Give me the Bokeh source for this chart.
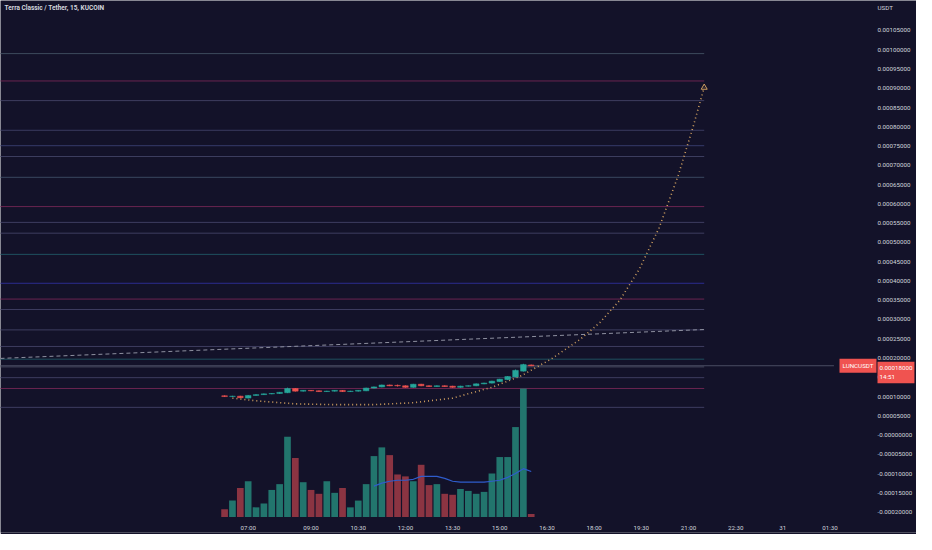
from bokeh.plotting import figure
from bokeh.models import Range1d, FixedTicker, CustomJSTickFormatter, Label, ColumnDataSource
from bokeh.embed import file_html
from bokeh.resources import INLINE

# ---------------- data ----------------
UNIT = 1e-6                      # prices below are in micro-USDT
bar_minutes = 15
first_bar_time = 375             # 06:15 on the 30th, minutes from midnight

opens = [102, 100, 101, 96, 103, 105, 107, 108, 110, 121, 114, 116, 115, 113, 114, 116, 113, 114, 115, 122,
         125, 130, 129, 128, 124, 132, 128, 126, 128, 127, 124, 127, 128, 133, 135, 139, 144, 151, 166, 182]
closes = [100, 101, 97, 103, 105, 107, 108, 111, 121, 114, 116, 115, 113, 114, 116, 113, 114, 116, 122, 125,
          130, 128, 128, 124, 132, 128, 126, 128, 126, 124, 127, 128, 133, 135, 140, 145, 152, 168, 183, 180]
highs = [103, 102, 102, 104, 106, 108, 109, 112, 123, 122, 117, 117, 116, 115, 117, 117, 115, 117, 123, 126,
         131, 131, 131, 129, 133, 133, 129, 129, 129, 128, 128, 129, 134, 136, 141, 146, 153, 170, 185, 183]
lows = [99, 99, 96, 95, 102, 104, 106, 107, 109, 113, 113, 114, 112, 112, 113, 112, 112, 113, 114, 121,
        124, 127, 126, 123, 123, 127, 125, 125, 125, 123, 123, 126, 127, 132, 134, 138, 143, 150, 165, 179]
volumes = [8, 17, 30, 37, 10, 14, 28, 34, 83, 61, 36, 28, 24, 37, 25, 30, 10, 17, 34, 63,
           72, 64, 44, 42, 37, 54, 33, 34, 24, 23, 29, 27, 24, 26, 45, 62, 62, 93, 133, 3]
vol_ma_first_index = 19
vol_ma = [32, 35, 37, 38, 38, 39, 42, 42, 42, 40, 37, 36, 36, 36, 36, 37, 38, 41, 45, 50, 47]

level_prices = [990, 919, 868, 791, 751, 723, 669, 593, 552, 524, 469, 394, 353, 326, 273, 230, 197, 177, 149, 121, 72]
level_end_time = 1290
level_colors = ["#3d4a5c", "#6a2450", "#3e3d60", "#3a3b60", "#363b6a", "#3d3e60", "#3a4860", "#6a2450",
                "#3e3d60", "#3e3d60", "#1f5060", "#2b2c90", "#6a2450", "#3e3d60", "#3e3d60", "#3e3d60",
                "#1f5060", "#45475e", "#3e3d60", "#6a2450", "#3e3d60"]

trend_times = [-52.5, 1290]
trend_prices = [199, 274]

proj_times = [390, 435, 510, 585, 660, 735, 810, 885, 941, 997.5, 1054, 1091, 1129, 1166, 1204, 1241, 1269, 1290]
proj_prices = [96, 89, 81, 79, 79, 84, 96, 124, 154, 197, 249, 292, 350, 430, 538, 676, 801, 902]

last_price = 180
countdown = "14:51"
symbol = "LUNCUSDT"
title_text = "Terra Classic / Tether, 15, KUCOIN"

x_tick_times = [420, 540, 630, 720, 810, 900, 990, 1080, 1170, 1260, 1350, 1440, 1530]
x_tick_labels = ["07:00", "09:00", "10:30", "12:00", "13:30", "15:00", "16:30", "18:00", "19:30",
                 "21:00", "22:30", "31", "01:30"]
price_ticks = [round(-0.0002 + i * 0.00005, 8) for i in range(26)]

# visible time / price window
t_start, t_end = -52.5, 1695
p_low, p_high = -0.00025276, 0.0011278
price_scale_edge = 1537.5        # time where the price scale begins

# ---------------- style ----------------
BG = "#131229"
UP = "#26a69a"
DOWN = "#ef5350"
UP_VOL = "#22756d"
DOWN_VOL = "#8b3442"
TXT = "#d1d4dc"
FONT = "Roboto"
FS = "6.2px"

W, H = 916, 534

times = [first_bar_time + i * bar_minutes for i in range(len(opens))]
up = [c >= o for o, c in zip(opens, closes)]

src = ColumnDataSource(dict(
    t=times,
    o=[v * UNIT for v in opens],
    c=[v * UNIT for v in closes],
    h=[v * UNIT for v in highs],
    l=[v * UNIT for v in lows],
    vol=volumes,
    col=[UP if u else DOWN for u in up],
    vcol=[UP_VOL if u else DOWN_VOL for u in up],
))

p = figure(width=W, height=H,
           x_range=Range1d(t_start, t_end), y_range=Range1d(p_low, p_high),
           y_axis_location="right", output_backend="svg", toolbar_location=None,
           background_fill_color=BG, border_fill_color=BG, outline_line_color=None,
           min_border_left=0, min_border_right=0, min_border_top=0, min_border_bottom=0)
p.grid.grid_line_color = None
p.extra_y_ranges = {"vol": Range1d(-16, 534)}

# horizontal levels
p.segment(x0=[t_start - 100] * len(level_prices), x1=[level_end_time] * len(level_prices),
          y0=[v * UNIT for v in level_prices], y1=[v * UNIT for v in level_prices],
          line_color=level_colors, line_width=1)

# current price line
p.segment(x0=[t_start - 100], x1=[price_scale_edge], y0=[last_price * UNIT], y1=[last_price * UNIT],
          line_color="#4a4c63", line_width=1)

# volume
p.vbar(x="t", top="vol", bottom=0, width=bar_minutes * 0.85, fill_color="vcol", line_color=None,
       source=src, y_range_name="vol")
p.line(times[vol_ma_first_index:], vol_ma, line_color="#2f5ccc", line_width=1.2, y_range_name="vol")

# trend line
p.line(trend_times, [v * UNIT for v in trend_prices], line_color="#8e90a0", line_dash="4 3", line_width=1)

# projection curve
p.line(proj_times, [v * UNIT for v in proj_prices], line_color="#d0a060", line_dash="1 3", line_width=1.6)
p.scatter([proj_times[-1]], [proj_prices[-1] * UNIT], marker="triangle", size=6,
          fill_color=None, line_color="#d0a060", line_width=1)

# candles
p.segment(x0="t", x1="t", y0="l", y1="h", line_color="col", line_width=1, source=src)
p.vbar(x="t", top="o", bottom="c", width=bar_minutes * 0.72, fill_color="col", line_color="col",
       line_width=0.5, source=src)

# axes (labels drawn inward over the chart area, as on the original)
xa = p.xaxis[0]
xa.ticker = FixedTicker(ticks=x_tick_times)
xa.major_label_overrides = {t: s for t, s in zip(x_tick_times, x_tick_labels)}
ya = p.yaxis[0]
ya.ticker = FixedTicker(ticks=price_ticks)
ya.formatter = CustomJSTickFormatter(code="""
    if (Math.abs(tick) < 1e-12) { return "-0.00000000"; }
    return tick.toFixed(8);
""")
for ax, stand in ((xa, -9), (ya, -39)):
    ax.axis_line_color = None
    ax.major_tick_line_color = None
    ax.minor_tick_line_color = None
    ax.major_tick_out = 0
    ax.major_tick_in = 0
    ax.minor_tick_out = 0
    ax.minor_tick_in = 0
    ax.major_label_text_color = TXT
    ax.major_label_text_font = FONT
    ax.major_label_text_font_size = FS
    ax.major_label_standoff = stand

# texts
p.add_layout(Label(x=4, y=H - 5, x_units="screen", y_units="screen", text=title_text,
                   text_font=FONT, text_font_size="6.5px", text_font_style="bold", text_color=TXT,
                   text_baseline="top"))
p.add_layout(Label(x=877, y=H - 5, x_units="screen", y_units="screen", text="USDT",
                   text_font=FONT, text_font_size=FS, text_color=TXT, text_baseline="top"))
p.add_layout(Label(x=839, y=last_price * UNIT, x_units="screen", y_units="data", text=symbol,
                   text_font=FONT, text_font_size=FS, text_color="#ffffff", text_baseline="middle",
                   background_fill_color="#f05350", padding=3))
p.add_layout(Label(x=877, y=last_price * UNIT, x_units="screen", y_units="data",
                   text=f"{last_price * UNIT:.8f}\n{countdown}",
                   text_font=FONT, text_font_size=FS, text_color="#ffffff", text_baseline="top",
                   y_offset=4, background_fill_color="#f05350", padding=2))

open("out.html", "w").write(file_html(p, INLINE))
